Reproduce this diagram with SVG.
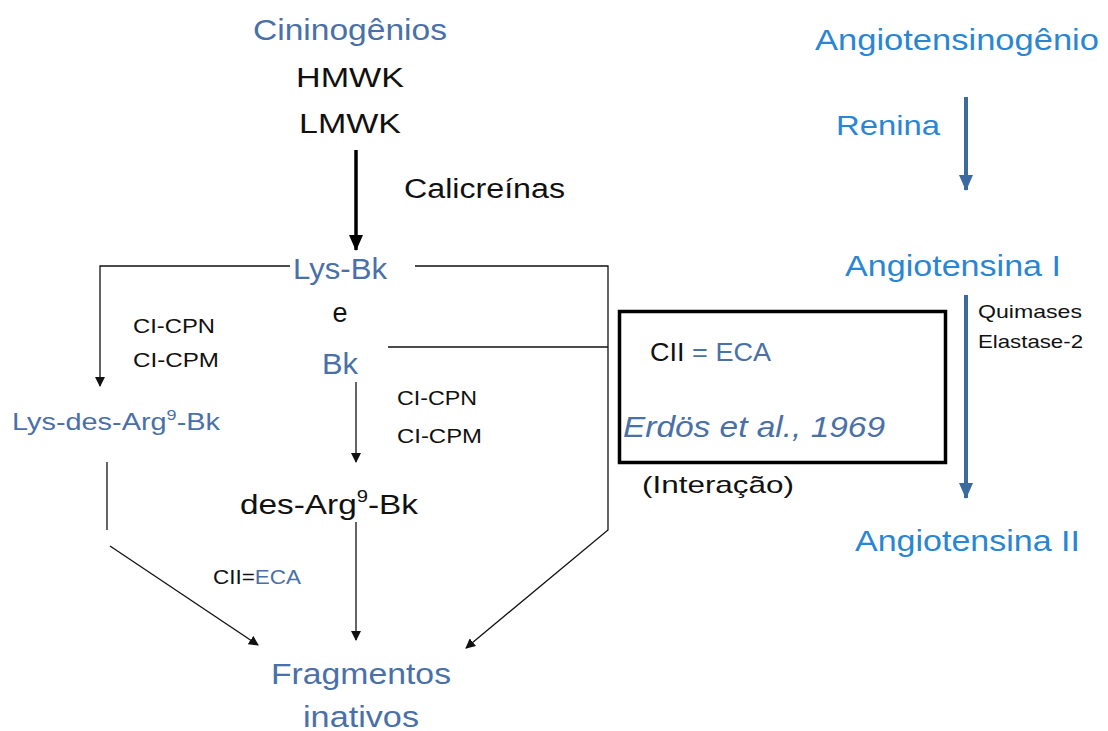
<svg xmlns="http://www.w3.org/2000/svg" width="1108" height="731" viewBox="0 0 1108 731">
<defs>
<style>
text{font-family:"Liberation Sans",Arial,sans-serif;}
.b{fill:#4a70a8;}
.r{fill:#2a86d2;}
.k{fill:#111;}
.ln{stroke:#111;stroke-width:1.3;fill:none;}
.thick{stroke:#000;stroke-width:3.5;fill:none;}
.rb{stroke:#3b6aa0;stroke-width:4;fill:none;}
</style>
<marker id="a" markerWidth="10" markerHeight="10" refX="9" refY="5" orient="auto" markerUnits="userSpaceOnUse" viewBox="0 0 10 10"><path d="M0,0 L10,5 L0,10 z" fill="#111"/></marker>
<marker id="at" markerWidth="16" markerHeight="16" refX="15" refY="8" orient="auto" markerUnits="userSpaceOnUse" viewBox="0 0 16 16"><path d="M0,1 L16,8 L0,15 z" fill="#000"/></marker>
<marker id="ab" markerWidth="16" markerHeight="16" refX="15" refY="8" orient="auto" markerUnits="userSpaceOnUse" viewBox="0 0 16 16"><path d="M0,1 L16,8 L0,15 z" fill="#3b6aa0"/></marker>
</defs>
<rect width="1108" height="731" fill="#fff"/>

<g id="connectors">
<line class="thick" x1="356" y1="150" x2="356" y2="250" marker-end="url(#at)"/>
<polyline class="ln" points="290,266 100,266 100,386" marker-end="url(#a)"/>
<polyline class="ln" points="415,266 608,266 608,530 466,648" marker-end="url(#a)"/>
<line class="ln" x1="388" y1="347" x2="608" y2="347"/>
<line class="ln" x1="356" y1="382" x2="356" y2="462" marker-end="url(#a)"/>
<line class="ln" x1="107" y1="462" x2="107" y2="530"/>
<line class="ln" x1="110" y1="546" x2="258" y2="645" marker-end="url(#a)"/>
<line class="ln" x1="356" y1="522" x2="356" y2="640" marker-end="url(#a)"/>
<line class="rb" x1="966" y1="97" x2="966" y2="190" marker-end="url(#ab)"/>
<line class="rb" x1="966" y1="295" x2="966" y2="498" marker-end="url(#ab)"/>
</g>

<g id="cininogenios">
<text class="b" x="350" y="40" font-size="29" text-anchor="middle" textLength="194" lengthAdjust="spacingAndGlyphs">Cininogênios</text>
<text class="k" x="350" y="87" font-size="28" text-anchor="middle" textLength="108" lengthAdjust="spacingAndGlyphs">HMWK</text>
<text class="k" x="350" y="133" font-size="28" text-anchor="middle" textLength="102" lengthAdjust="spacingAndGlyphs">LMWK</text>
</g>
<g id="calicreinas"><text class="k" x="404" y="198" font-size="27" textLength="161" lengthAdjust="spacingAndGlyphs">Calicreínas</text></g>
<g id="lysbk"><text class="b" x="340" y="279" font-size="29" text-anchor="middle" textLength="94" lengthAdjust="spacingAndGlyphs">Lys-Bk</text></g>
<g id="e"><text class="k" x="340" y="322" font-size="27" text-anchor="middle">e</text></g>
<g id="bk"><text class="b" x="340" y="374" font-size="29" text-anchor="middle" textLength="36" lengthAdjust="spacingAndGlyphs">Bk</text></g>
<g id="cicp1">
<text class="k" x="133" y="333" font-size="20" textLength="82" lengthAdjust="spacingAndGlyphs">CI-CPN</text>
<text class="k" x="133" y="367" font-size="20" textLength="86" lengthAdjust="spacingAndGlyphs">CI-CPM</text>
</g>
<g id="cicp2">
<text class="k" x="397" y="405" font-size="20" textLength="80" lengthAdjust="spacingAndGlyphs">CI-CPN</text>
<text class="k" x="397" y="443" font-size="20" textLength="85" lengthAdjust="spacingAndGlyphs">CI-CPM</text>
</g>
<g id="lysdesarg"><text class="b" x="12" y="430" font-size="24" textLength="208" lengthAdjust="spacingAndGlyphs">Lys-des-Arg<tspan font-size="15" dy="-10">9</tspan><tspan dy="10">-Bk</tspan></text></g>
<g id="desarg"><text class="k" x="240" y="514" font-size="28" textLength="178" lengthAdjust="spacingAndGlyphs">des-Arg<tspan font-size="17" dy="-12">9</tspan><tspan dy="12">-Bk</tspan></text></g>
<g id="cii-eca"><text x="213" y="584" font-size="20" textLength="88" lengthAdjust="spacingAndGlyphs"><tspan class="k">CII=</tspan><tspan class="b">ECA</tspan></text></g>
<g id="fragmentos">
<text class="b" x="361" y="684" font-size="29" text-anchor="middle" textLength="180" lengthAdjust="spacingAndGlyphs">Fragmentos</text>
<text class="b" x="361" y="727" font-size="29" text-anchor="middle" textLength="116" lengthAdjust="spacingAndGlyphs">inativos</text>
</g>
<g id="box">
<rect x="619.5" y="311.5" width="326" height="151" fill="none" stroke="#000" stroke-width="3.5"/>
<text x="650" y="361" font-size="25" textLength="121" lengthAdjust="spacingAndGlyphs"><tspan class="k">CII</tspan><tspan class="b"> = ECA</tspan></text>
<text class="b" x="623" y="437" font-size="29" font-style="italic" textLength="262" lengthAdjust="spacingAndGlyphs">Erdös et al., 1969</text>
</g>
<g id="interacao"><text class="k" x="642" y="493" font-size="24" textLength="152" lengthAdjust="spacingAndGlyphs">(Interação)</text></g>
<g id="angiotensinogenio"><text class="r" x="815" y="50" font-size="29" textLength="284" lengthAdjust="spacingAndGlyphs">Angiotensinogênio</text></g>
<g id="renina"><text class="r" x="836" y="135" font-size="28" textLength="104" lengthAdjust="spacingAndGlyphs">Renina</text></g>
<g id="angI"><text class="r" x="845" y="276" font-size="29" textLength="216" lengthAdjust="spacingAndGlyphs">Angiotensina I</text></g>
<g id="quimases">
<text class="k" x="978" y="318" font-size="19" textLength="104" lengthAdjust="spacingAndGlyphs">Quimases</text>
<text class="k" x="978" y="348" font-size="19" textLength="105" lengthAdjust="spacingAndGlyphs">Elastase-2</text>
</g>
<g id="angII"><text class="r" x="855" y="551" font-size="29" textLength="225" lengthAdjust="spacingAndGlyphs">Angiotensina II</text></g>
</svg>
